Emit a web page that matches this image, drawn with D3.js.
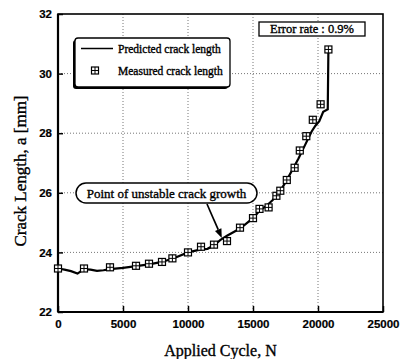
<!DOCTYPE html>
<html>
<head>
<meta charset="utf-8">
<script src="https://cdn.jsdelivr.net/npm/d3@7"></script>
<style>
  body { margin: 0; background: #fff; }
  text { font-family: "Liberation Serif", "Times New Roman", serif; fill: #000; stroke: #000; stroke-width: 0.35; }
  .tick text { font-family: "Liberation Sans", Arial, sans-serif; font-weight: bold; stroke-width: 0.2; }
</style>
</head>
<body>
<div id="chart"></div>
<script>
// measured points (square-with-cross markers)
const measuredN = [0, 2000, 4000, 6000, 7000, 8000, 8800, 10000, 11000, 12000, 13000, 14000,
  15000, 15500, 16200, 16800, 17100, 17600, 18200, 18600, 19100, 19600, 20200, 20800];
const measuredA = [23.46, 23.46, 23.5, 23.55, 23.62, 23.68, 23.8, 24.0, 24.19, 24.26, 24.38, 24.83,
  25.15, 25.46, 25.51, 25.9, 26.07, 26.43, 26.84, 27.42, 27.9, 28.45, 28.97, 30.81];

// predicted curve
const predN = [0, 500, 1000, 1500, 2000, 2500, 3000, 3500, 4000, 5000, 6000, 7000, 8000, 9000,
  10000, 11000, 11500, 12000, 12500, 13000, 14000, 15000, 15500, 16000, 16500, 17000, 17500,
  18000, 18500, 19000, 19500, 19800, 20100, 20400, 20650, 20750, 20800];
const predA = [23.46, 23.42, 23.37, 23.29, 23.44, 23.42, 23.38, 23.4, 23.44, 23.48, 23.54, 23.6,
  23.68, 23.82, 24.0, 24.1, 24.12, 24.24, 24.42, 24.56, 24.8, 25.15, 25.4, 25.55, 25.75, 26.0,
  26.35, 26.75, 27.15, 27.6, 28.05, 28.25, 28.4, 28.72, 28.78, 28.8, 30.81];

// annotation: arrow from label to the curve at about N = 12600
const arrowTipN = 12600, arrowTipA = 24.42;

const xTicks = [0, 5000, 10000, 15000, 20000, 25000];
const yTicks = [22, 24, 26, 28, 30, 32];

const W = 403, H = 359;
const m = { left: 58, right: 20, top: 14, bottom: 48 };

const svg = d3.select('#chart').append('svg')
  .attr('width', W).attr('height', H);

const x = d3.scaleLinear().domain([0, 25000]).range([m.left, W - m.right]);
const y = d3.scaleLinear().domain([22, 32]).range([H - m.bottom + 1, m.top]);

// dotted grid
svg.append('g').selectAll('line').data(xTicks.slice(1, -1)).enter().append('line')
  .attr('x1', d => x(d)).attr('x2', d => x(d))
  .attr('y1', y(32)).attr('y2', y(22))
  .attr('stroke', '#666').attr('stroke-width', 0.9).attr('stroke-dasharray', '1,2');
svg.append('g').selectAll('line').data(yTicks.slice(1, -1)).enter().append('line')
  .attr('x1', x(0)).attr('x2', x(25000))
  .attr('y1', d => y(d)).attr('y2', d => y(d))
  .attr('stroke', '#666').attr('stroke-width', 0.9).attr('stroke-dasharray', '1,2');

// axes
const xAxis = svg.append('g').attr('transform', `translate(0,${y(22)})`)
  .call(d3.axisBottom(x).tickValues(xTicks).tickSizeInner(-6).tickSizeOuter(0).tickPadding(8).tickFormat(d3.format('d')));
const yAxis = svg.append('g').attr('transform', `translate(${x(0)},0)`)
  .call(d3.axisLeft(y).tickValues(yTicks).tickSizeInner(-5).tickSizeOuter(0).tickPadding(6));
[xAxis, yAxis].forEach(a => {
  a.select('.domain').remove();
  a.selectAll('.tick line').attr('stroke', '#000').attr('stroke-width', 1.5);
  a.selectAll('.tick text').attr('font-size', 11.5);
});

// frame
svg.append('rect')
  .attr('x', x(0)).attr('y', y(32))
  .attr('width', x(25000) - x(0)).attr('height', y(22) - y(32))
  .attr('fill', 'none').attr('stroke', '#000').attr('stroke-width', 1.6);
svg.append('line').attr('x1', x(0)).attr('x2', x(0)).attr('y1', y(32)).attr('y2', y(22))
  .attr('stroke', '#000').attr('stroke-width', 2.2);
svg.append('line').attr('x1', x(0)).attr('x2', x(25000)).attr('y1', y(22)).attr('y2', y(22))
  .attr('stroke', '#000').attr('stroke-width', 2.2);

// predicted line
const pred = predN.map((n, i) => [n, predA[i]]);
svg.append('path').datum(pred)
  .attr('d', d3.line().x(d => x(d[0])).y(d => y(d[1])))
  .attr('fill', 'none').attr('stroke', '#000').attr('stroke-width', 2.2);

// markers
function marker(g, cx, cy) {
  const s = 3.5;
  g.append('rect').attr('x', cx - s).attr('y', cy - s).attr('width', 2 * s).attr('height', 2 * s)
    .attr('fill', '#fff').attr('stroke', '#000').attr('stroke-width', 1.2);
  g.append('line').attr('x1', cx - s).attr('x2', cx + s).attr('y1', cy).attr('y2', cy)
    .attr('stroke', '#000').attr('stroke-width', 1);
  g.append('line').attr('x1', cx).attr('x2', cx).attr('y1', cy - s).attr('y2', cy + s)
    .attr('stroke', '#000').attr('stroke-width', 1);
}
const mg = svg.append('g');
measuredN.forEach((n, i) => marker(mg, x(n), y(measuredA[i])));

// legend
const lg = svg.append('g');
lg.append('rect').attr('x', 73).attr('y', 40).attr('width', 155).attr('height', 49)
  .attr('rx', 3).attr('fill', '#000');
lg.append('rect').attr('x', 75).attr('y', 38).attr('width', 155).attr('height', 49)
  .attr('rx', 3).attr('fill', '#fff').attr('stroke', '#000').attr('stroke-width', 1.3);
lg.append('line').attr('x1', 81).attr('x2', 113).attr('y1', 48.5).attr('y2', 48.5)
  .attr('stroke', '#000').attr('stroke-width', 1.5);
lg.append('text').attr('x', 118).attr('y', 52.5).attr('font-size', 11.5).text('Predicted crack length');
marker(lg, 95, 70.5);
lg.append('text').attr('x', 118).attr('y', 74.5).attr('font-size', 11.5).text('Measured crack length');

// error rate box
svg.append('rect').attr('x', 259).attr('y', 22).attr('width', 106).attr('height', 14)
  .attr('fill', '#fff').attr('stroke', '#000').attr('stroke-width', 1.3);
svg.append('text').attr('x', 312).attr('y', 33).attr('text-anchor', 'middle')
  .attr('font-size', 12.5).text('Error rate : 0.9%');

// annotation with arrow (drawn last so nothing covers it)
const ann = svg.append('g').attr('class', 'annotation');
ann.append('rect').attr('x', 76).attr('y', 183).attr('width', 181).attr('height', 20)
  .attr('rx', 10).attr('fill', '#fff').attr('stroke', '#000').attr('stroke-width', 1.5);
ann.append('text').attr('x', 166.5).attr('y', 197.5).attr('text-anchor', 'middle')
  .attr('font-size', 13).text('Point of unstable crack growth');

const ax1 = 207, ay1 = 204;
const ax2 = x(arrowTipN), ay2 = y(arrowTipA) - 2;
const ang = Math.atan2(ay2 - ay1, ax2 - ax1);
const hl = 9, hw = 3.5;
const bx = ax2 - hl * Math.cos(ang), by = ay2 - hl * Math.sin(ang);
ann.append('line')
  .attr('x1', ax1).attr('y1', ay1).attr('x2', bx).attr('y2', by)
  .style('stroke', '#000').style('stroke-width', '1.7px');
ann.append('polygon')
  .attr('points', [[ax2, ay2], [bx - hw * Math.sin(ang), by + hw * Math.cos(ang)], [bx + hw * Math.sin(ang), by - hw * Math.cos(ang)]].join(' '))
  .style('fill', '#000');

// axis titles
svg.append('text').attr('x', (x(0) + x(25000)) / 2).attr('y', 356).attr('text-anchor', 'middle')
  .attr('font-size', 16).text('Applied Cycle, N');
svg.append('text').attr('transform', 'translate(26,171) rotate(-90)').attr('text-anchor', 'middle')
  .attr('font-size', 17).text('Crack Length, a [mm]');
</script>
</body>
</html>
